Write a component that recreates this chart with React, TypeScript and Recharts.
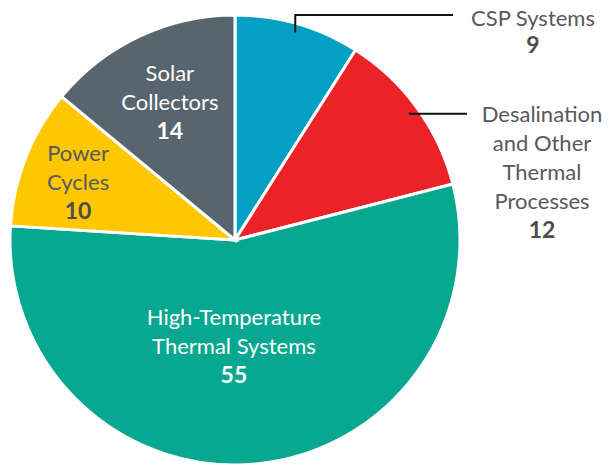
import { Cell, Pie, PieChart } from "recharts";

const names = [
  "CSP Systems",
  "Desalination and Other Thermal Processes",
  "High-Temperature Thermal Systems",
  "Power Cycles",
  "Solar Collectors",
];
const values = [9, 12, 55, 10, 14];
const labelLines = [
  ["CSP Systems"],
  ["Desalination", "and Other", "Thermal", "Processes"],
  ["High-Temperature", "Thermal Systems"],
  ["Power", "Cycles"],
  ["Solar", "Collectors"],
];

const COLORS = ["#03A0C4", "#EC2229", "#07A88F", "#FDC800", "#58646E"];
const FONT = "Lato, 'Open Sans', sans-serif";
const RAD = Math.PI / 180;
const LINE_H = 29;

const rows = names.map((name, i) => ({ name, value: values[i] }));

// how each label sits: inside labels hang off a point on the mid angle,
// outside labels get a leader line and a text block to the right
const layout: any[] = [
  { kind: "elbow", f: 0.96, elbowY: 15, lineEnd: 453, textX: 533, firstBase: 26, gap: 27, color: "#58595b" },
  { kind: "straight", f: 0.955, lineEnd: 467, textX: 542, firstBase: 122, gap: 29, color: "#58595b" },
  { kind: "inside", f: 0.47, dx: -11, dy: 0, color: "#fff" },
  { kind: "inside", f: 0.75, dx: 0, dy: 4, color: "#58595b" },
  { kind: "inside", f: 0.68, dx: 0, dy: 0, color: "#fff" },
];

function polar(cx: number, cy: number, r: number, angle: number) {
  return { x: cx + r * Math.cos(-angle * RAD), y: cy + r * Math.sin(-angle * RAD) };
}

function TextBlock({ x, firstBase, gap, lines, value, color }: any) {
  return (
    <g>
      {lines.map((t: string, i: number) => (
        <text
          key={i}
          x={x}
          y={firstBase + i * gap}
          textAnchor="middle"
          fill={color}
          fontSize={22}
          fontWeight={400}
          fontFamily={FONT}
        >
          {t}
        </text>
      ))}
      <text
        x={x}
        y={firstBase + lines.length * gap}
        textAnchor="middle"
        fill={color === "#fff" ? "#fff" : "#4d4d4f"}
        fontSize={23}
        fontWeight={700}
        fontFamily={FONT}
      >
        {value}
      </text>
    </g>
  );
}

function renderLabel(props: any) {
  const { cx, cy, midAngle, outerRadius, index, value } = props;
  const l = layout[index];
  const lines = labelLines[index];
  const p = polar(cx, cy, outerRadius * l.f, midAngle);
  if (l.kind === "elbow") {
    return (
      <g>
        <polyline
          points={`${p.x},${p.y} ${p.x},${l.elbowY} ${l.lineEnd},${l.elbowY}`}
          fill="none"
          stroke="#111"
          strokeWidth={2}
        />
        <TextBlock x={l.textX} firstBase={l.firstBase} gap={l.gap} lines={lines} value={value} color={l.color} />
      </g>
    );
  }
  if (l.kind === "straight") {
    return (
      <g>
        <line x1={p.x} y1={p.y} x2={l.lineEnd} y2={p.y} stroke="#111" strokeWidth={2} />
        <TextBlock x={l.textX} firstBase={l.firstBase} gap={l.gap} lines={lines} value={value} color={l.color} />
      </g>
    );
  }
  // inside: p is the centre of the block, cap height ~17px
  const n = lines.length + 1;
  const cxText = p.x + l.dx;
  const centerY = p.y + l.dy;
  const firstBase = centerY - ((n - 1) / 2) * LINE_H + 8.5;
  return <TextBlock x={cxText} firstBase={firstBase} gap={LINE_H} lines={lines} value={value} color={l.color} />;
}

export default function App() {
  return (
    <div style={{ position: "absolute", left: 0, top: 0 }}>
      <PieChart width={610} height={465} margin={{ top: 0, right: 0, bottom: 0, left: 0 }}>
        <Pie
          data={rows}
          dataKey="value"
          nameKey="name"
          cx={235}
          cy={240}
          outerRadius={225}
          startAngle={90}
          endAngle={-270}
          stroke="#fff"
          strokeWidth={3}
          label={renderLabel}
          labelLine={false}
          isAnimationActive={false}
        >
          {rows.map((r, i) => (
            <Cell key={r.name} fill={COLORS[i]} />
          ))}
        </Pie>
      </PieChart>
    </div>
  );
}
